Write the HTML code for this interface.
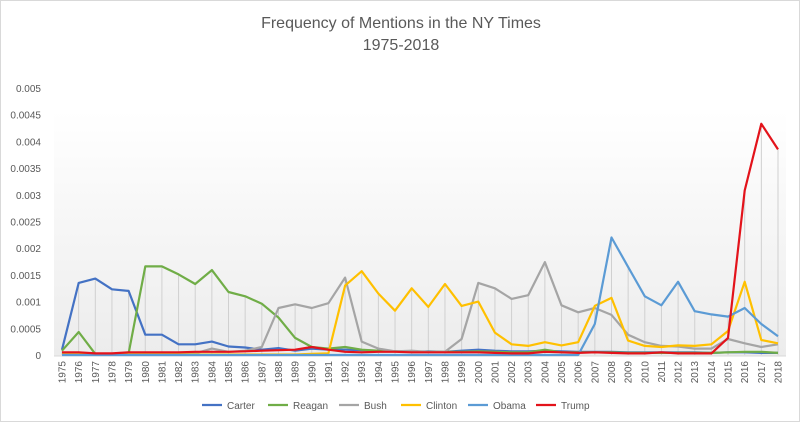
<!DOCTYPE html>
<html><head><meta charset="utf-8"><style>
body{margin:0;background:#fff;font-family:"Liberation Sans",sans-serif}
#wrap{position:relative;width:800px;height:422px;overflow:hidden;border:1px solid #d9d9d9;box-sizing:border-box}
</style></head><body>
<div id="wrap">
<svg id="chart" width="800" height="422">
<defs><linearGradient id="bg" x1="0" y1="0" x2="0" y2="1"><stop offset="0" stop-color="#ffffff"/><stop offset="1" stop-color="#ececec"/></linearGradient></defs>
<rect x="53" y="110" width="732" height="245" fill="url(#bg)"/>
<text x="400" y="27" text-anchor="middle" font-size="16" fill="#595959">Frequency of Mentions in the NY Times</text>
<text x="400" y="49" text-anchor="middle" font-size="16" fill="#595959">1975-2018</text>
<g id="drops"></g><g id="yaxis"></g><g id="xaxis"></g><g id="series"></g><g id="legend"></g>
</svg>
</div>
<script>
const years=[];for(let y=1975;y<=2018;y++)years.push(y);
const yTicks=[0,0.0005,0.001,0.0015,0.002,0.0025,0.003,0.0035,0.004,0.0045,0.005];
const yTickLabels=["0","0.0005","0.001","0.0015","0.002","0.0025","0.003","0.0035","0.004","0.0045","0.005"];
const seriesNames=["Carter","Reagan","Bush","Clinton","Obama","Trump"];
const seriesColors=["#4472c4","#70ad47","#a5a5a5","#ffc000","#5b9bd5","#e3131b"];
const carter=[0.1,1.35,1.43,1.23,1.2,0.38,0.38,0.2,0.2,0.25,0.16,0.14,0.1,0.13,0.08,0.12,0.1,0.1,0.09,0.08,0.07,0.06,0.07,0.06,0.08,0.1,0.08,0.07,0.07,0.08,0.07,0.06,0.06,0.06,0.05,0.05,0.05,0.05,0.05,0.04,0.05,0.05,0.04,0.04];
const reagan=[0.08,0.43,0.02,0.02,0.03,1.66,1.66,1.51,1.33,1.59,1.18,1.1,0.96,0.7,0.32,0.15,0.12,0.15,0.1,0.08,0.07,0.06,0.06,0.06,0.06,0.07,0.06,0.05,0.05,0.1,0.05,0.05,0.05,0.05,0.04,0.04,0.04,0.04,0.04,0.04,0.05,0.06,0.06,0.04];
const bush=[0.02,0.02,0.02,0.02,0.02,0.02,0.02,0.02,0.03,0.12,0.06,0.08,0.15,0.88,0.95,0.88,0.97,1.45,0.25,0.12,0.07,0.08,0.06,0.06,0.3,1.35,1.25,1.05,1.12,1.74,0.93,0.8,0.88,0.75,0.38,0.24,0.17,0.16,0.12,0.12,0.3,0.22,0.15,0.2];
const clinton=[0.01,0.01,0.01,0.01,0.01,0.01,0.01,0.01,0.01,0.01,0.01,0.01,0.01,0.01,0.01,0.02,0.03,1.3,1.57,1.15,0.83,1.25,0.9,1.33,0.92,1.0,0.42,0.2,0.17,0.24,0.18,0.24,0.92,1.07,0.27,0.17,0.15,0.18,0.17,0.2,0.45,1.37,0.28,0.22];
const obama=[0,0,0,0,0,0,0,0,0,0,0,0,0,0,0,0,0,0,0,0,0,0,0,0,0,0,0,0,0,0,0,0,0.58,2.2,1.65,1.1,0.93,1.37,0.82,0.76,0.72,0.88,0.58,0.35];
const trump=[0.05,0.05,0.03,0.03,0.05,0.05,0.05,0.05,0.06,0.06,0.06,0.07,0.08,0.09,0.1,0.15,0.1,0.06,0.05,0.06,0.06,0.05,0.05,0.05,0.05,0.05,0.04,0.03,0.03,0.06,0.05,0.04,0.05,0.04,0.03,0.03,0.05,0.03,0.03,0.03,0.32,3.08,4.33,3.85];
const allSeries=[carter,reagan,bush,clinton,obama,trump];
const NS="http://www.w3.org/2000/svg";
const xS=i=>61+i*(777-61)/(years.length-1);
const yS=v=>354-v*(354-87)/0.005;
function mk(t,a,p){const e=document.createElementNS(NS,t);for(const k in a)e.setAttribute(k,a[k]);p.appendChild(e);return e;}
const drops=document.getElementById('drops');
years.forEach((yr,i)=>{const mx=Math.max(...allSeries.map(s=>s[i]))/1000;
 const l=mk('line',{x1:xS(i),x2:xS(i),y1:yS(mx),y2:354,stroke:'#d0d0d0','stroke-width':1},drops);
 
 });
const ya=document.getElementById('yaxis');
yTicks.forEach((v,i)=>{const t=mk('text',{x:40,y:yS(v)+4,'text-anchor':'end','font-size':10,fill:'#595959'},ya);t.textContent=yTickLabels[i];
 
 });
const xa=document.getElementById('xaxis');
const ax=mk('line',{x1:53,x2:785,y1:355,y2:355,stroke:'#d9d9d9'},xa);


years.forEach((yr,i)=>{const x=xS(i)+3.5;const t=mk('text',{x:x,y:360,'text-anchor':'end','font-size':10,fill:'#595959',transform:`rotate(-90 ${x} 360)`},xa);t.textContent=yr;
 
 });
const sg=document.getElementById('series');
allSeries.forEach((s,k)=>{const pts=s.map((v,i)=>xS(i).toFixed(1)+','+yS(v/1000).toFixed(1)).join(' ');
 const p=mk('polyline',{points:pts,fill:'none',stroke:seriesColors[k],'stroke-width':2.2,'stroke-linejoin':'round'},sg);
 
 });
const lg=document.getElementById('legend');
const lx=[201,267,338,400,467,535];
seriesNames.forEach((n,k)=>{const g=mk('g',{},lg);
 
 
 mk('line',{x1:lx[k],x2:lx[k]+20,y1:404,y2:404,stroke:seriesColors[k],'stroke-width':2.2},g);
 const t=mk('text',{x:lx[k]+25,y:408,'font-size':10,fill:'#595959'},g);t.textContent=n;});
</script>
</body></html>
